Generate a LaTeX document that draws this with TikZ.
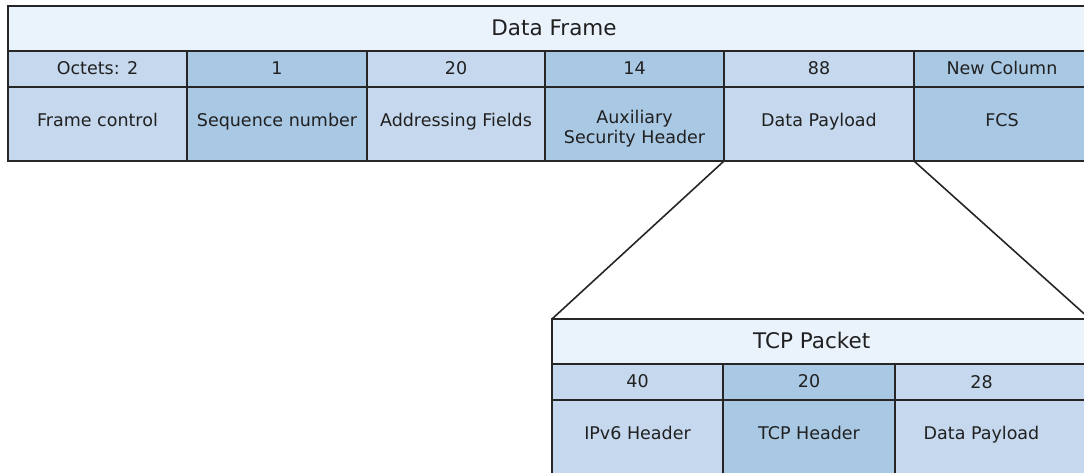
\documentclass[tikz,border=0pt]{standalone}
\usepackage{fontspec}
\setmainfont{DejaVu Sans}
\definecolor{hdrfill}{HTML}{EAF2FC}
\definecolor{lightcell}{HTML}{C5D8ED}
\definecolor{darkcell}{HTML}{A9C8E3}
\definecolor{rulecol}{HTML}{262626}
\definecolor{ink}{HTML}{202020}
\begin{document}
\begin{tikzpicture}[x=1pt,y=-1pt,
  cellbase/.style={draw=rulecol, line width=1.6pt, inner sep=0pt, outer sep=0pt,
    text=ink, font=\fontsize{17.5}{20}\selectfont, align=center},
  numrow/.style={cellbase, minimum height=36pt, text height=14pt, text depth=4pt},
  bodyrow/.style={cellbase, minimum height=74pt, text height=12.5pt, text depth=7.5pt},
  light/.style={fill=lightcell},
  dark/.style={fill=darkcell},
  hdr/.style={cellbase, fill=hdrfill, minimum height=45pt,
    font=\fontsize{21.5}{24}\selectfont, text height=16pt, text depth=3pt},
  label/.style={inner sep=0pt, text=ink, font=\fontsize{17.5}{20}\selectfont},
  hdrlabel/.style={label, font=\fontsize{21.5}{24}\selectfont},
  link/.style={draw=rulecol, line width=1.6pt}]
\useasboundingbox (0,0) rectangle (1084,472);
\clip (0,0) rectangle (1084,472);

% ---- Data frame (runs on past the right edge) ----
\node[hdr, minimum width=1092pt] (frame) at (554,28.5) {Data Frame};

\node[numrow, light, minimum width=179pt] (o1) at (97.5,69)  {Octets: 2};
\node[numrow, dark,  minimum width=180pt] (o2) at (277,69)   {1};
\node[numrow, light, minimum width=178pt] (o3) at (456,69)   {20};
\node[numrow, dark,  minimum width=179pt] (o4) at (634.5,69) {14};
\node[numrow, light, minimum width=190pt] (o5) at (819,69)   {88};
\node[numrow, dark,  minimum width=186pt] (o6) at (1007,69)  {};
\node[label, anchor=base] (o6T) at (1002,74) {New Column};

\node[bodyrow, light, minimum width=179pt] (fc)  at (97.5,124)  {Frame control};
\node[bodyrow, dark,  minimum width=180pt] (seq) at (277,124)   {Sequence number};
\node[bodyrow, light, minimum width=178pt] (adr) at (456,124)   {Addressing Fields};
\node[bodyrow, dark,  minimum width=179pt] (aux) at (634.5,124) {};
\node[bodyrow, light, minimum width=190pt] (dp)  at (819,124)   {Data Payload};
\node[bodyrow, dark,  minimum width=186pt] (fcs) at (1007,124)  {};
\node[label, anchor=base] (fcsT) at (1002,126.5) {FCS};
\node[label, anchor=base] (auxT) at (634.5,123.3)
  {\begin{tabular}[t]{@{}c@{}}Auxiliary\\Security Header\end{tabular}};

% ---- TCP packet (runs on past the right and bottom edges) ----
\node[hdr, minimum width=548pt] (tcp) at (826,341.5) {};
\node[hdrlabel, anchor=base] (tcpT) at (811.7,348) {TCP Packet};
\coordinate (tcpNE) at (1090,319);

\node[numrow, light, minimum width=171pt] (t1) at (637.5,382) {40};
\node[numrow, dark,  minimum width=172pt] (t2) at (809,382)   {20};
\node[numrow, light, minimum width=205pt] (t3) at (997.5,382) {};
\node[label, anchor=base] (t3T) at (981.5,388) {28};

\node[bodyrow, light, minimum width=171pt] (ipv6) at (637.5,437) {IPv6 Header};
\node[bodyrow, dark,  minimum width=172pt] (tcph) at (809,437)   {TCP Header};
\node[bodyrow, light, minimum width=205pt] (tdp)  at (997.5,437) {};
\node[label, anchor=base] (tdpT) at (981.5,439.5) {Data Payload};

% ---- expansion lines ----
\draw[link] (dp.south west) -- (tcp.north west);
\draw[link] (dp.south east) -- (tcpNE);
\end{tikzpicture}
\end{document}
